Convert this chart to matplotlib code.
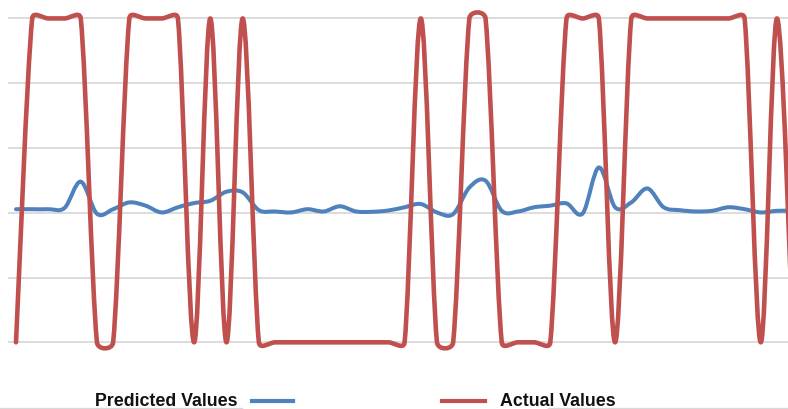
import numpy as np
import matplotlib.pyplot as plt
from matplotlib.path import Path
from matplotlib.patches import PathPatch
from matplotlib.lines import Line2D

# values, one per sample (the last one sits just past the right edge)
actual = [0, 1, 1, 1, 1, 0, 0, 1, 1, 1, 1, 0, 1, 0, 1, 0, 0, 0, 0, 0,
          0, 0, 0, 0, 0, 1, 0, 0, 1, 1, 0, 0, 0, 0, 1, 1, 1, 0, 1, 1,
          1, 1, 1, 1, 1, 1, 0, 1, 0]
predicted = [0.411, 0.411, 0.411, 0.415, 0.496, 0.397, 0.411, 0.432, 0.422, 0.401,
             0.417, 0.430, 0.437, 0.465, 0.463, 0.408, 0.404, 0.401, 0.411, 0.404,
             0.420, 0.404, 0.403, 0.407, 0.417, 0.427, 0.401, 0.396, 0.478, 0.499,
             0.406, 0.404, 0.417, 0.422, 0.429, 0.398, 0.540, 0.417, 0.432, 0.475,
             0.417, 0.408, 0.404, 0.406, 0.417, 0.411, 0.401, 0.406, 0.406]
labels = ['Predicted Values', 'Actual Values']

red = '#C0504D'
blue = '#4F81BD'


def smooth_path(ax, y):
    # excel style smoothed line: cubic bezier through every point,
    # control handles worked out in screen space and capped by segment length
    x = np.arange(len(y), dtype=float)
    pts = ax.transData.transform(np.column_stack([x, np.asarray(y, float)]))
    n = len(pts)
    tang = np.zeros_like(pts)
    for i in range(n):
        a = pts[max(i - 1, 0)]
        b = pts[min(i + 1, n - 1)]
        tang[i] = (b - a) / 6.0
    verts = [pts[0]]
    codes = [Path.MOVETO]
    for i in range(n - 1):
        p1, p2 = pts[i], pts[i + 1]
        seg = np.hypot(*(p2 - p1))
        cap = 0.5 * seg
        t1, t2 = tang[i].copy(), tang[i + 1].copy()
        for t in (t1, t2):
            ln = np.hypot(*t)
            if ln > cap:
                t *= cap / ln
        verts += [p1 + t1, p2 - t2, p2]
        codes += [Path.CURVE4] * 3
    verts = ax.transData.inverted().transform(np.array(verts))
    return Path(verts, codes)


fig = plt.figure(figsize=(7.88, 4.10), dpi=100)
ax = fig.add_axes([8 / 788, 1 - 360 / 410, 780 / 788, 360 / 410])
ax.set_xlim(-0.494, 47.68)
ax.set_ylim(-0.0515, 1.06)
ax.axis('off')

for v in np.arange(0, 1.01, 0.2):
    ax.axhline(v, color='#D9D9D9', lw=1.3, zorder=0)

ax.add_patch(PathPatch(smooth_path(ax, predicted), fill=False, edgecolor=blue,
                       lw=2.9, capstyle='round', joinstyle='round', zorder=2))
ax.add_patch(PathPatch(smooth_path(ax, actual), fill=False, edgecolor=red,
                       lw=3.3, capstyle='round', joinstyle='round', zorder=3))

# legend drawn by hand (text left of line for first entry, as in the original)
fig.text(95 / 788, 1 - 406 / 410, labels[0], fontsize=12.8, fontweight='bold',
         family='Liberation Sans', color='#111111', va='baseline', ha='left')
fig.add_artist(Line2D([252 / 788, 293 / 788], [1 - 402 / 410] * 2,
                      color=blue, lw=3.0, transform=fig.transFigure))
fig.add_artist(Line2D([442 / 788, 485 / 788], [1 - 402 / 410] * 2,
                      color=red, lw=3.0, transform=fig.transFigure))
fig.text(500 / 788, 1 - 406 / 410, labels[1], fontsize=12.8, fontweight='bold',
         family='Liberation Sans', color='#111111', va='baseline', ha='left')

# faint frame line at the very bottom
fig.add_artist(Line2D([0, 242 / 788], [1 - 408.5 / 410] * 2,
                      color='#D9D9D9', lw=1, transform=fig.transFigure))
fig.add_artist(Line2D([548 / 788, 1], [1 - 408.5 / 410] * 2,
                      color='#D9D9D9', lw=1, transform=fig.transFigure))

fig.savefig('out.png', dpi=100)
